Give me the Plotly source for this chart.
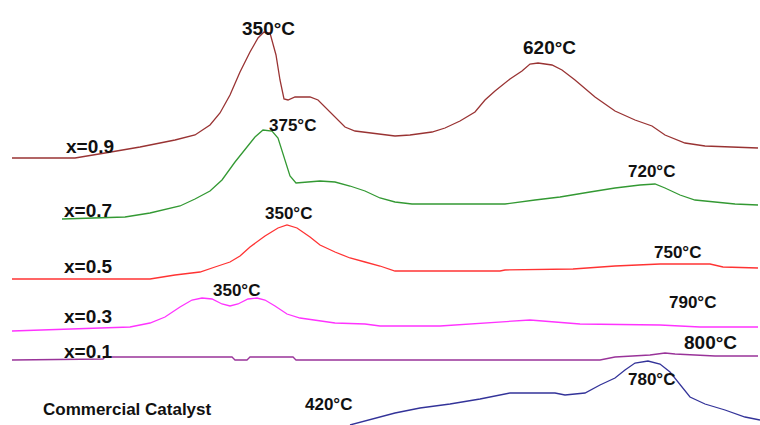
import plotly.graph_objects as go

# Horizontal positions (arbitrary units, left -> right) and signal levels
x09 = [12, 75, 105, 140, 175, 195, 210, 220, 230, 240, 250, 258, 264, 270, 276, 280, 284, 288, 295, 310, 318, 330, 345, 355, 370, 380,
       395, 410, 432, 445, 460, 475, 485, 495, 510, 522, 530, 538, 552, 562, 575, 595, 615, 635, 652, 665, 685, 705, 725, 758]
y09 = [158, 158, 153, 147, 140, 135, 125, 113, 95, 72, 52, 38, 32, 33, 55, 80, 99, 100, 97, 97, 100, 112, 127, 131, 133, 134,
       136, 135, 132, 128, 121, 112, 100, 91, 79, 71, 64, 63, 65, 70, 80, 97, 111, 120, 126, 135, 143, 146, 147, 148]

x07 = [62, 105, 125, 150, 180, 195, 210, 222, 235, 247, 255, 263, 272, 278, 284, 290, 296, 305, 320, 335, 350, 365, 380,
       395, 412, 440, 505, 535, 560, 590, 615, 640, 655, 665, 680, 695, 715, 735, 758]
y07 = [219, 218, 217, 213, 206, 199, 191, 180, 162, 147, 137, 130, 131, 138, 158, 176, 183, 182, 181, 182, 186, 191, 198,
       202, 204, 204, 204, 200, 197, 192, 188, 185, 184, 188, 195, 200, 202, 204, 205]

x05 = [12, 150, 175, 200, 215, 230, 240, 250, 265, 278, 287, 297, 310, 320, 335, 350, 365, 380,
       395, 500, 505, 573, 615, 660, 710, 723, 758]
y05 = [279, 279, 275, 272, 267, 262, 256, 247, 236, 228, 225, 228, 237, 245, 252, 258, 262, 266,
       271, 271, 270, 269, 266, 264, 264, 267, 268]

x03 = [12, 80, 110, 130, 150, 165, 180, 192, 202, 212, 222, 230, 238, 248, 257, 265, 275, 287, 300, 320, 335, 365, 380,
       440, 470, 530, 555, 580, 660, 700, 720, 758]
y03 = [331, 329, 328, 327, 323, 317, 307, 300, 298, 299, 304, 306, 304, 299, 298, 300, 306, 314, 318, 321, 323, 324, 326,
       326, 324, 320, 322, 324, 325, 327, 327, 327]

x01 = [12, 103, 105, 232, 235, 247, 250, 293, 296, 600, 615, 637, 650, 665, 675, 715, 758]
y01 = [360, 359, 357, 357, 360, 360, 357, 357, 360, 360, 357, 356, 355, 353, 354, 356, 356]

xcom = [350, 380, 395, 420, 450, 480, 510, 530, 555, 565, 585, 600, 615, 625, 635, 648, 660, 670, 680, 690, 705, 725, 745, 760]
ycom = [425, 417, 413, 408, 404, 399, 393, 393, 393, 395, 393, 385, 378, 370, 363, 361, 364, 372, 385, 397, 404, 410, 417, 420]

series_names = ["x=0.9", "x=0.7", "x=0.5", "x=0.3", "x=0.1", "Commercial Catalyst"]
series_colors = ["#993333", "#339933", "#ff3333", "#ff33ff", "#993399", "#333399"]
series_x = [x09, x07, x05, x03, x01, xcom]
series_y = [y09, y07, y05, y03, y01, ycom]

# labels: text, x, y, font size
label_text = ["x=0.9", "x=0.7", "x=0.5", "x=0.3", "x=0.1", "Commercial Catalyst",
              "350°C", "620°C", "375°C", "720°C", "350°C", "750°C", "350°C", "790°C", "800°C", "420°C", "780°C"]
label_x = [90, 88, 88, 88, 88, 127, 268, 549, 292, 651, 288, 677, 236, 692, 710, 328, 651]
label_y = [146, 210, 266, 316, 351, 409, 28, 47, 125, 171, 213, 252, 290, 302, 342, 404, 379]
label_size = [19, 19, 19, 19, 19, 17, 19, 19, 17, 17, 17, 17, 17, 17, 19, 17, 17]

fig = go.Figure()
for name, color, xs, ys in zip(series_names, series_colors, series_x, series_y):
    fig.add_trace(go.Scatter(x=xs, y=ys, mode="lines", name=name,
                             line=dict(color=color, width=1.3), showlegend=False))

for t, lx, ly, s in zip(label_text, label_x, label_y, label_size):
    fig.add_annotation(x=lx, y=ly, text="<b>%s</b>" % t, showarrow=False,
                       xanchor="center", yanchor="middle",
                       font=dict(family="Liberation Sans, Arial, sans-serif", size=s, color="#111111"))

fig.update_layout(width=760, height=425, margin=dict(l=0, r=0, t=0, b=0),
                  paper_bgcolor="white", plot_bgcolor="white")
fig.update_xaxes(range=[0, 760], visible=False)
fig.update_yaxes(range=[425, 0], visible=False)
fig.write_html("out.html")
